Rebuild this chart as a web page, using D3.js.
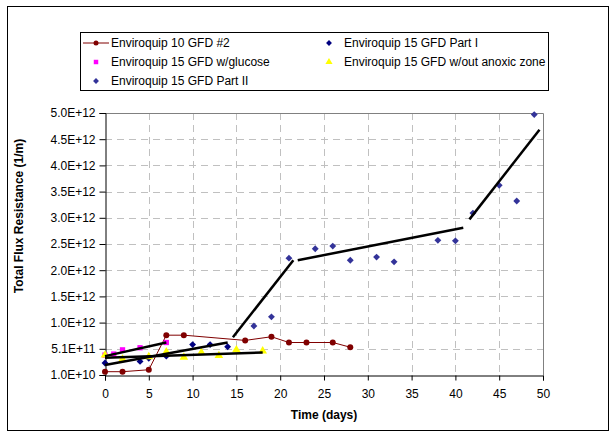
<!DOCTYPE html>
<html><head><meta charset="utf-8">
<script src="https://cdn.jsdelivr.net/npm/d3@7"></script>
<style>body{margin:0;background:#fff}svg{display:block;font-family:"Liberation Sans",Arial,sans-serif}</style>
</head><body><svg id="c" width="613" height="434"></svg>
<script>
// ---- data ----
const series1Days = [0, 2, 5, 7, 9, 16, 19, 21, 23, 26, 28];
const series1Vals = [7.3e10, 7.3e10, 1.1e11, 7.7e11, 7.7e11, 6.7e11, 7.4e11, 6.3e11, 6.3e11, 6.3e11, 5.4e11];
const glucoseDays = [0, 1, 2, 4, 7];
const glucoseVals = [3.9e11, 4.1e11, 4.9e11, 5.3e11, 6.3e11];
const partIDays = [0, 4, 5, 7, 10, 12, 14];
const partIVals = [2.4e11, 2.7e11, 3.3e11, 3.7e11, 5.9e11, 5.9e11, 5.5e11];
const anoxicDays = [0, 2, 5, 7, 9, 11, 13, 15, 18];
const anoxicVals = [3.9e11, 3.1e11, 3.6e11, 4.5e11, 3.5e11, 4.4e11, 3.8e11, 4.9e11, 4.7e11];
const partIIDays = [17, 19, 21, 24, 26, 28, 31, 33, 38, 40, 42, 45, 47, 49];
const partIIVals = [0.945e12, 1.12e12, 2.24e12, 2.42e12, 2.47e12, 2.2e12, 2.26e12, 2.17e12, 2.58e12, 2.57e12, 3.1e12, 3.63e12, 3.33e12, 4.98e12];
// trend line segments: [day, value] endpoints
const trendLines = [
  [[0, 3.7e11], [7, 6.3e11]],
  [[0, 2.0e11], [14, 6.3e11]],
  [[0, 3.4e11], [18, 4.4e11]],
  [[14.6, 0.73e12], [21.5, 2.2e12]],
  [[22, 2.2e12], [40.9, 2.82e12]],
  [[41.6, 2.98e12], [49.6, 4.69e12]]
];
const xTicks = [0, 5, 10, 15, 20, 25, 30, 35, 40, 45, 50];
const yTicks = [1e10, 5.1e11, 1.01e12, 1.51e12, 2.01e12, 2.51e12, 3.01e12, 3.51e12, 4.01e12, 4.51e12, 5.01e12];
const yTickLabels = ["1.0E+10", "5.1E+11", "1.0E+12", "1.5E+12", "2.0E+12", "2.5E+12", "3.0E+12", "3.5E+12", "4.0E+12", "4.5E+12", "5.0E+12"];
const legendNames = ["Enviroquip 10 GFD #2", "Enviroquip 15 GFD Part I", "Enviroquip 15 GFD w/glucose", "Enviroquip 15 GFD w/out anoxic zone", "Enviroquip 15 GFD Part II"];

// ---- layout ----
const svg = d3.select("#c");
const L = 105, R = 543, T = 113, B = 375;
const x = d3.scaleLinear().domain([0, 50]).range([L, R]);
const y = d3.scaleLinear().domain([1e10, 5.01e12]).range([B, T]);

// outer frame
svg.append("rect").attr("x", 7.5).attr("y", 6.5).attr("width", 601).attr("height", 424)
  .attr("fill", "#fff").attr("stroke", "#000").attr("stroke-width", 1);

// grid
const g = svg.append("g");
g.selectAll(".vg").data(xTicks.slice(1, -1)).join("line")
  .attr("x1", d => Math.round(x(d)) + 0.5).attr("x2", d => Math.round(x(d)) + 0.5)
  .attr("y1", T).attr("y2", B).attr("stroke", "#c0c0c0").attr("stroke-dasharray", "7,5");
g.selectAll(".hg").data(yTicks.slice(1, -1)).join("line")
  .attr("y1", d => Math.round(y(d)) + 0.5).attr("y2", d => Math.round(y(d)) + 0.5)
  .attr("x1", L).attr("x2", R).attr("stroke", "#c0c0c0").attr("stroke-dasharray", "7,5");
// plot border (top/right grey)
svg.append("path").attr("d", `M${L},${T + 0.5}H${R + 0.5}V${B}`).attr("fill", "none").attr("stroke", "#808080");

// axes
const xAxis = d3.axisBottom(x).tickValues(xTicks).tickSize(5).tickFormat(d3.format("d"));
const xa = svg.append("g").attr("transform", `translate(0,${B + 0.5})`).call(xAxis);
const yAxis = d3.axisLeft(y).tickValues(yTicks).tickSize(6).tickFormat((d, i) => yTickLabels[i]);
const ya = svg.append("g").attr("transform", `translate(${L + 0.5},0)`).call(yAxis);
[xa, ya].forEach(a => {
  a.select(".domain").attr("stroke", "#000");
  a.selectAll(".tick line").attr("stroke", "#000");
  a.selectAll("text").attr("font-family", "Liberation Sans, Arial, sans-serif").attr("font-size", 12).attr("fill", "#000");
});
xa.selectAll("text").attr("dy", "0.71em").attr("y", 14);
ya.selectAll("text").attr("x", -10);

// axis titles
svg.append("text").attr("x", 324).attr("y", 419).attr("text-anchor", "middle")
  .attr("font-size", 12).attr("font-weight", "bold").text("Time (days)");
svg.append("text").attr("transform", "translate(23,216) rotate(-90)").attr("text-anchor", "middle")
  .attr("font-size", 12).attr("font-weight", "bold").text("Total Flux Resistance (1/m)");

// markers
const diamond = d3.symbol().type(d3.symbolDiamond2).size(30);
const square = d3.symbol().type(d3.symbolSquare).size(28);
const tri = d3.symbol().type(d3.symbolTriangle).size(32);

const zip = (a, b) => a.map((d, i) => [d, b[i]]);
const plot = svg.append("g");

// series 1 line + circles
const s1 = zip(series1Days, series1Vals);
plot.append("path").datum(s1).attr("fill", "none").attr("stroke", "#800000").attr("stroke-width", 1)
  .attr("d", d3.line().x(d => x(d[0])).y(d => y(d[1])));
plot.selectAll(".s1").data(s1).join("circle").attr("cx", d => x(d[0])).attr("cy", d => y(d[1]))
  .attr("r", 3).attr("fill", "#800000");

// glucose squares
plot.selectAll(".s2").data(zip(glucoseDays, glucoseVals)).join("path")
  .attr("transform", d => `translate(${x(d[0])},${y(d[1])})`).attr("d", square).attr("fill", "#ff00ff");
// part I diamonds
plot.selectAll(".s3").data(zip(partIDays, partIVals)).join("path")
  .attr("transform", d => `translate(${x(d[0])},${y(d[1])})`).attr("d", diamond).attr("fill", "#000080");
// anoxic triangles
plot.selectAll(".s4").data(zip(anoxicDays, anoxicVals)).join("path")
  .attr("transform", d => `translate(${x(d[0])},${y(d[1])})`).attr("d", tri).attr("fill", "#ffff00");
// part II diamonds
plot.selectAll(".s5").data(zip(partIIDays, partIIVals)).join("path")
  .attr("transform", d => `translate(${x(d[0])},${y(d[1])})`).attr("d", diamond).attr("fill", "#333399");

// trend lines
plot.selectAll(".tl").data(trendLines).join("line")
  .attr("x1", d => x(d[0][0])).attr("y1", d => y(d[0][1]))
  .attr("x2", d => x(d[1][0])).attr("y2", d => y(d[1][1]))
  .attr("stroke", "#000").attr("stroke-width", 2.5);

// legend
const lg = svg.append("g");
lg.append("rect").attr("x", 80.5).attr("y", 32.5).attr("width", 468).attr("height", 58)
  .attr("fill", "#fff").attr("stroke", "#000");
const legPos = [[96, 43], [329, 43], [96, 62], [329, 62], [96, 81]];
const legText = [[111, 43], [344, 43], [111, 62], [344, 62], [111, 81]];
legendNames.forEach((n, i) => {
  lg.append("text").attr("x", legText[i][0]).attr("y", legText[i][1]).attr("dy", "0.35em")
    .attr("font-size", 12).text(n);
});
lg.append("line").attr("x1", 83).attr("x2", 109).attr("y1", 43).attr("y2", 43).attr("stroke", "#800000");
lg.append("circle").attr("cx", 96).attr("cy", 43).attr("r", 2.5).attr("fill", "#800000");
lg.append("path").attr("transform", `translate(${legPos[1][0]},${legPos[1][1]})`).attr("d", d3.symbol().type(d3.symbolDiamond2).size(22)).attr("fill", "#000080");
lg.append("path").attr("transform", `translate(${legPos[2][0]},${legPos[2][1]})`).attr("d", d3.symbol().type(d3.symbolSquare).size(20)).attr("fill", "#ff00ff");
lg.append("path").attr("transform", `translate(${legPos[3][0]},${legPos[3][1]})`).attr("d", d3.symbol().type(d3.symbolTriangle).size(22)).attr("fill", "#ffff00");
lg.append("path").attr("transform", `translate(${legPos[4][0]},${legPos[4][1]})`).attr("d", d3.symbol().type(d3.symbolDiamond2).size(22)).attr("fill", "#333399");
</script></body></html>
